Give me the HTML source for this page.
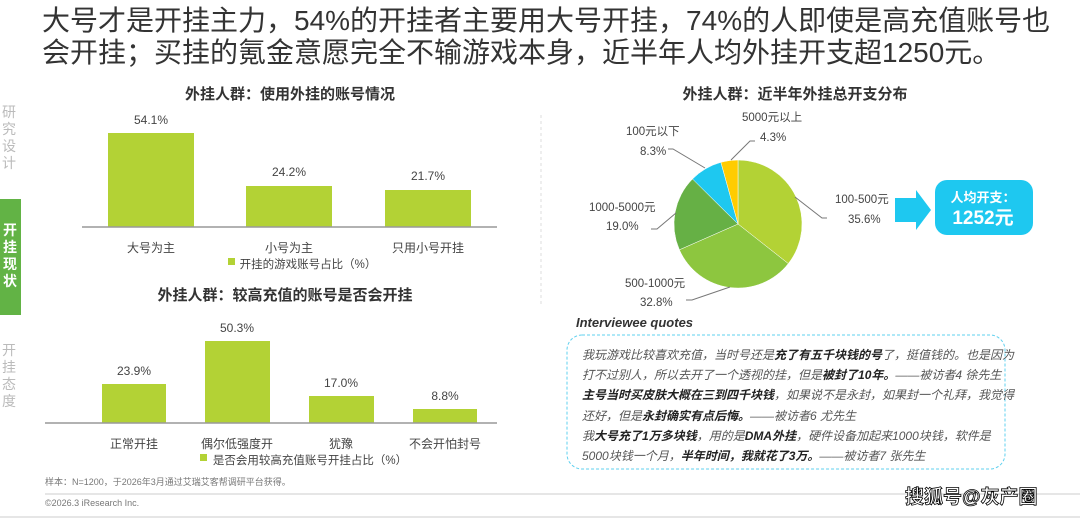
<!DOCTYPE html>
<html><head><meta charset="utf-8"><style>
body{margin:0;width:1080px;height:519px;background:#fff;overflow:hidden;font-family:"Liberation Sans","Noto Sans CJK SC",sans-serif;position:relative}
.a{position:absolute;white-space:nowrap}
.q{position:absolute;left:582px;font-size:12px;color:#555;font-style:italic;white-space:nowrap}
.q b{color:#222}
</style></head><body>
<div class="a" style="left:42px;top:5px;font-size:28px;line-height:32px;color:#333">大号才是开挂主力，54%的开挂者主要用大号开挂，74%的人即使是高充值账号也<br>会开挂；买挂的氪金意愿完全不输游戏本身，近半年人均外挂开支超1250元。</div>
<div class="a" style="left:2px;top:104px;font-size:14px;line-height:17px;color:#bbb;width:16px;white-space:normal">研究设计</div>
<div class="a" style="left:0;top:199px;width:21px;height:116px;background:#62b345"></div>
<div class="a" style="left:3px;top:222px;font-size:14px;line-height:17px;color:#fff;font-weight:bold;width:16px;white-space:normal">开挂现状</div>
<div class="a" style="left:2px;top:342px;font-size:14px;line-height:17px;color:#bbb;width:16px;white-space:normal">开挂态度</div>
<svg class="a" style="left:0;top:0" width="1080" height="519" font-family="Liberation Sans, Noto Sans CJK SC, sans-serif">
<g font-size="15" font-weight="bold" fill="#333" text-anchor="middle">
<text x="290" y="99">外挂人群：使用外挂的账号情况</text>
<text x="285" y="300">外挂人群：较高充值的账号是否会开挂</text>
<text x="795" y="99">外挂人群：近半年外挂总开支分布</text>
</g>
<g fill="#b3d235">
<rect x="108" y="133" width="86" height="94"/><rect x="246" y="186" width="86" height="41"/><rect x="385" y="190" width="86" height="37"/>
<rect x="102" y="384" width="64" height="39"/><rect x="205" y="341" width="65" height="82"/><rect x="309" y="396" width="65" height="27"/><rect x="413" y="409" width="64" height="14"/>
<rect x="228" y="258" width="7" height="7"/><rect x="200" y="454" width="7" height="7"/>
</g>
<line x1="82" y1="227" x2="497" y2="227" stroke="#999" stroke-width="1.5"/>
<line x1="45" y1="423" x2="497" y2="423" stroke="#999" stroke-width="1.5"/>
<g font-size="12" fill="#444" text-anchor="middle">
<text x="151" y="124">54.1%</text><text x="289" y="176">24.2%</text><text x="428" y="180">21.7%</text>
<text x="151" y="252">大号为主</text><text x="289" y="252">小号为主</text><text x="428" y="252">只用小号开挂</text>
<text x="134" y="375">23.9%</text><text x="237" y="332">50.3%</text><text x="341" y="387">17.0%</text><text x="445" y="400">8.8%</text>
<text x="134" y="448">正常开挂</text><text x="237" y="448">偶尔低强度开</text><text x="341" y="448">犹豫</text><text x="445" y="448">不会开怕封号</text>
<text x="308" y="268" font-size="11.5">开挂的游戏账号占比（%）</text>
<text x="310" y="464" font-size="11.5">是否会用较高充值账号开挂占比（%）</text>
</g>
<text x="45" y="485" font-size="9" fill="#777">样本：N=1200，于2026年3月通过艾瑞艾客帮调研平台获得。</text>
<line x1="45" y1="494" x2="1080" y2="494" stroke="#ccc"/>
<text x="45" y="506" font-size="9" fill="#777">©2026.3 iResearch Inc.</text>
<line x1="0" y1="517" x2="1080" y2="517" stroke="#ccc"/>
<line x1="541" y1="115" x2="541" y2="305" stroke="#ddd" stroke-dasharray="3,3"/>
<g stroke="#fff" stroke-width="0.5">
<path d="M738 224 L738 160 A64 64 0 0 1 788.3 263.6Z" fill="#b3d235"/>
<path d="M738 224 L788.3 263.6 A64 64 0 0 1 679.4 249.8Z" fill="#8dc63f"/>
<path d="M738 224 L679.4 249.8 A64 64 0 0 1 692.5 179Z" fill="#66b045"/>
<path d="M738 224 L692.5 179 A64 64 0 0 1 720.9 162.3Z" fill="#1ec8f0"/>
<path d="M738 224 L720.9 162.3 A64 64 0 0 1 738 160Z" fill="#ffcc00"/>
</g>
<g stroke="#777" fill="none" stroke-width="1">
<polyline points="795,197 822,218 827,218"/><polyline points="730,287 692,300 686,300"/>
<polyline points="676,213 657,229 651,229"/><polyline points="705,168 673,149 668,149"/>
<polyline points="731,160 750,141 755,141"/>
</g>
<g font-size="11.5" fill="#444">
<text x="742" y="121">5000元以上</text><text x="760" y="141">4.3%</text>
<text x="626" y="135">100元以下</text><text x="640" y="155">8.3%</text>
<text x="589" y="211">1000-5000元</text><text x="606" y="230">19.0%</text>
<text x="625" y="287">500-1000元</text><text x="640" y="306">32.8%</text>
<text x="835" y="203">100-500元</text><text x="848" y="223">35.6%</text>
</g>
<path d="M895 198 L916 198 L916 190 L931 210 L916 230 L916 222 L895 222Z" fill="#1ec8f0"/>
<rect x="935" y="180" width="98" height="55" rx="12" fill="#1ec8f0"/>
<text x="983" y="202" font-size="13" font-weight="bold" fill="#fff" text-anchor="middle">人均开支：</text>
<text x="983" y="224" font-size="19" font-weight="bold" fill="#fff" text-anchor="middle">1252元</text>
<text x="576" y="327" font-size="13" font-weight="bold" font-style="italic" fill="#333">Interviewee quotes</text>
<rect x="567" y="335" width="438" height="134" rx="15" fill="none" stroke="#5fd0ef" stroke-dasharray="3,2"/>
<text x="905" y="503" font-size="19" font-weight="bold" fill="#fff" stroke="#000" stroke-width="0.8">搜狐号@灰产圈</text>
</svg>
<div class="q" style="top:346px">我玩游戏比较喜欢充值，当时号还是<b>充了有五千块钱的号</b>了，挺值钱的。也是因为</div>
<div class="q" style="top:366px">打不过别人，所以去开了一个透视的挂，但是<b>被封了10年。</b>——被访者4 徐先生</div>
<div class="q" style="top:386px"><b>主号当时买皮肤大概在三到四千块钱</b>，如果说不是永封，如果封一个礼拜，我觉得</div>
<div class="q" style="top:407px">还好，但是<b>永封确实有点后悔。</b>——被访者6 尤先生</div>
<div class="q" style="top:427px">我<b>大号充了1万多块钱</b>，用的是<b>DMA外挂</b>，硬件设备加起来1000块钱，软件是</div>
<div class="q" style="top:447px">5000块钱一个月，<b>半年时间，我就花了3万。</b>——被访者7 张先生</div>
</body></html>
